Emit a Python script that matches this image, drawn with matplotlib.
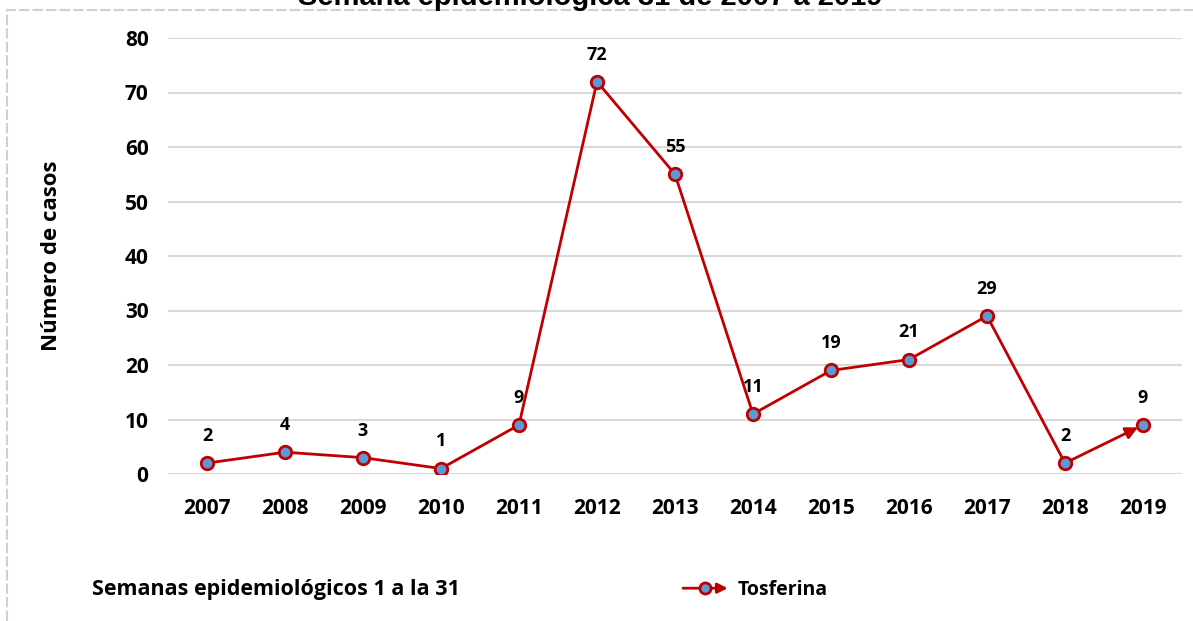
import matplotlib
matplotlib.use('Agg')
import matplotlib.pyplot as plt
from matplotlib.legend_handler import HandlerBase
from matplotlib.patches import FancyArrowPatch, Rectangle
from matplotlib.lines import Line2D

matplotlib.rcParams['font.family'] = 'Open Sans'
matplotlib.rcParams['font.weight'] = 'bold'

years = ['2007', '2008', '2009', '2010', '2011', '2012', '2013',
         '2014', '2015', '2016', '2017', '2018', '2019']
casos = [2, 4, 3, 1, 9, 72, 55, 11, 19, 21, 29, 2, 9]
yticks = [0, 10, 20, 30, 40, 50, 60, 70, 80]

title = 'Semana epidemiológica 31 de 2007 a 2019'
note = 'Semanas epidemiológicos 1 a la 31'
serie = 'Tosferina'

red = '#C00000'
blue = '#5B9BD5'
grid_c = '#D9D9D9'

W, H = 1193, 621
fig = plt.figure(figsize=(W / 100, H / 100), dpi=100)

# dashed chart-area border (right/bottom edge off canvas)
fig.patches.append(Rectangle((7 / W, -0.05), 1.2, 1 - 10 / H + 0.05, transform=fig.transFigure,
                             fill=False, edgecolor='#D0D0D0', lw=1.5, ls=(0, (5, 1.5)), zorder=0))

ax = fig.add_axes([168 / W, 1 - 474 / H, 1014 / W, 436 / H])
x = list(range(len(years)))

# line up to 2018, last segment drawn with an arrow
ax.plot(x[:-1], casos[:-1], color=red, lw=2, zorder=3)
ax.annotate('', xy=(x[-1], casos[-1]), xytext=(x[-2], casos[-2]),
            arrowprops=dict(arrowstyle='-|>', color=red, lw=2, mutation_scale=18,
                            shrinkA=0, shrinkB=4), zorder=3)
ax.plot(x, casos, ls='', marker='o', ms=9, mfc=blue, mec=red, mew=2, zorder=4)

for xi, v in zip(x, casos):
    ax.annotate(str(v), (xi, v), xytext=(0, 13), textcoords='offset points',
                ha='center', va='bottom', fontsize=13, fontweight='bold')

ax.set_xlim(-0.5, len(years) - 0.5)
ax.set_ylim(0, 80)
ax.set_xticks(x)
ax.set_xticklabels(years)
ax.set_yticks(yticks)
ax.tick_params(axis='both', length=0, labelsize=15)
ax.tick_params(axis='x', pad=17)
ax.tick_params(axis='y', pad=14)
for s in ax.spines.values():
    s.set_visible(False)
ax.grid(axis='y', color=grid_c, lw=1.5)
ax.set_axisbelow(True)
ax.set_ylabel('Número de casos', fontsize=16, fontweight='bold')
ax.yaxis.set_label_coords(-0.105, 0.5)

fig.text(590 / W, 1 - 5 / H, title, ha='center', va='baseline',
         family='Liberation Sans', fontsize=21, fontweight='bold')
fig.text(92 / W, 1 - 590 / H, note, ha='left', va='center', fontsize=15.5, fontweight='bold')


class ArrowHandler(HandlerBase):
    def create_artists(self, legend, orig_handle, xdescent, ydescent, width, height, fontsize, trans):
        y = height / 2 - ydescent
        arr = FancyArrowPatch((-xdescent, y), (width - xdescent, y), arrowstyle='-|>',
                              mutation_scale=15, color=red, lw=2, shrinkA=0, shrinkB=0,
                              transform=trans)
        m = Line2D([width / 2 - xdescent], [y], ls='', marker='o', ms=8,
                   mfc=blue, mec=red, mew=2, transform=trans)
        return [arr, m]


h = Line2D([], [], color=red)
fig.legend([h], [serie], handler_map={Line2D: ArrowHandler()}, loc='center left',
           bbox_to_anchor=(683 / W, 1 - 590 / H), frameon=False, borderpad=0,
           borderaxespad=0, handlelength=2.3, handletextpad=0.5,
           prop={'size': 14, 'weight': 'bold'})

fig.savefig('out.png', dpi=100)
